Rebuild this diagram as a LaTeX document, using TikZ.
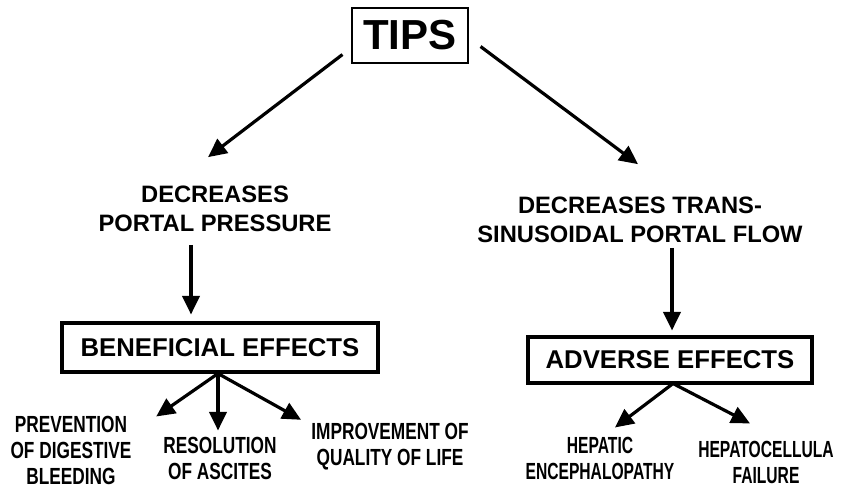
\documentclass[tikz,border=0pt]{standalone}
\usepackage{fontspec}
\setmainfont{Liberation Sans}
\newfontfamily\narrowfont[FakeStretch=0.74]{Liberation Sans}
\newfontfamily\narrowerfont[FakeStretch=0.67]{Liberation Sans}
\usetikzlibrary{arrows.meta,positioning}

\begin{document}
\begin{tikzpicture}[
      x=0.75pt,y=-0.75pt,
      every node/.style={inner sep=0pt,align=center},
      title/.style={draw,line width=0.8pt,minimum width=87pt,minimum height=41.25pt,font=\bfseries\fontsize{31.5}{36}\selectfont},
      cause/.style={font=\bfseries\fontsize{17.8}{22}\selectfont},
      effect/.style={draw,line width=2.3pt,font=\bfseries\fontsize{19.3}{23}\selectfont},
      leafL/.style={font=\narrowfont\bfseries\fontsize{17.5}{19.5}\selectfont},
      leafR/.style={font=\narrowerfont\bfseries\fontsize{17.5}{19.5}\selectfont},
      >={Triangle[length=14pt,width=13pt]},
      arr/.style={->,line width=2.4pt}
    ]
    \useasboundingbox (0,0) rectangle (841,488);

    % top
    \node[title] (tips) at (410,35.5) {TIPS};

    % left branch
    \node[cause] (decL) at (215,208.5) {DECREASES\\PORTAL PRESSURE};
    \node[effect,minimum width=237pt,minimum height=36.75pt] (benef) at (220,347.5) {BENEFICIAL EFFECTS};
    \node[leafL] (prev) at (71,450) {PREVENTION\\OF DIGESTIVE\\BLEEDING};
    \node[leafL] (resol) at (220,458) {RESOLUTION\\OF ASCITES};
    \node[leafL] (impr) at (390,446.5) {IMPROVEMENT OF\\QUALITY OF LIFE};

    % right branch
    \node[cause] (decR) at (640,219.5) {DECREASES TRANS-\\SINUSOIDAL PORTAL FLOW};
    \node[effect,minimum width=213pt,minimum height=34.5pt] (adv) at (670,360) {ADVERSE EFFECTS};
    \node[leafR] (hepenc) at (600,458) {HEPATIC\\ENCEPHALOPATHY};
    \node[leafR] (hepcell) at (766,462) {HEPATOCELLULA\\FAILURE};

    % the arrows
    \draw[arr] ([shift={(-9,-9)}]tips.south west) -- ([shift={(-7,-28)}]decL.north);
    \draw[arr] ([shift={(12,-17)}]tips.south east) -- ([shift={(-2,-32)}]decR.north);
    \draw[arr] ([shift={(-24,13)}]decL.south) -- ([shift={(-29,-7)}]benef.north);
    \draw[arr] ([shift={(32,5)}]decR.south) -- ([shift={(2,-5)}]adv.north);
    \draw[arr] ([shift={(-2,0)}]benef.south) -- ([shift={(24.5,1)}]prev.north east);
    \draw[arr] ([shift={(-2,0)}]benef.south) -- ([shift={(-2,-6)}]resol.north);
    \draw[arr] ([shift={(-2,0)}]benef.south) -- ([shift={(-10,-3)}]impr.north west);
    \draw[arr] ([shift={(3,-1)}]adv.south) -- ([shift={(15,-9)}]hepenc.north);
    \draw[arr] ([shift={(3,-1)}]adv.south) -- ([shift={(-16,-17)}]hepcell.north);
\end{tikzpicture}
\end{document}
